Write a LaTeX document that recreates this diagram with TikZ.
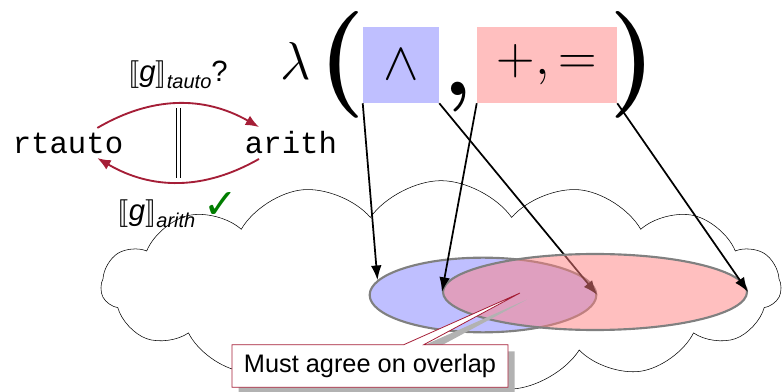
\RequirePackage{fix-cm}
\documentclass[tikz,border=0pt]{standalone}
\usepackage{amsmath,amssymb,stmaryrd}
\usepackage[no-math]{fontspec}
\setmainfont{Liberation Sans}
\newfontfamily\codefont{Liberation Mono}
\newfontfamily\symfont{DejaVu Sans}
\usepackage{tikz}
\usetikzlibrary{arrows.meta,shapes.geometric,shapes.symbols,shapes.callouts,shadows}

\definecolor{tacred}{RGB}{165,30,55}
\definecolor{okgreen}{RGB}{0,125,0}

\tikzset{
  proofarc/.style={tacred, line width=1.4pt, -{Latex[length=10pt,width=8pt]}},
  maparrow/.style={black, line width=1.3pt, -{Latex[length=11pt,width=8pt]}},
  setshape/.style={ellipse, draw=black!50, line width=1.6pt, inner sep=0pt},
  symbox/.style={minimum height=57pt, inner sep=0pt, font=\fontsize{40}{48}\selectfont}
}

\begin{document}
\begin{tikzpicture}[x=0.75pt,y=-0.75pt]

\useasboundingbox (0,0) rectangle (783,392);

% Cloud of models
\node[cloud, draw, thin, cloud puffs=15, cloud puff arc=110, aspect=3.3,
  minimum width=510pt, minimum height=158pt] (domain) at (441,286) {};

% Tactics
\node (rtauto) at (68,143) {\codefont\fontsize{23}{28}\selectfont rtauto};
\node (arith) at (291,143) {\codefont\fontsize{23}{28}\selectfont arith};

\draw[proofarc] ([xshift=22pt]rtauto.north) to[bend left=30] ([xshift=-24pt]arith.north);
\draw[proofarc] ([xshift=-24pt]arith.south) to[bend left=30] ([xshift=22pt]rtauto.south);

\draw[line width=1.1pt, double distance=2pt] (178.5,108) -- (178.5,178);

\node (qtauto) at (178,75) {\fontsize{22}{26}\selectfont$\llbracket$\textit{g}$\rrbracket$%
  \raisebox{-5pt}{\fontsize{15}{18}\selectfont\textit{tauto}}?};
\node (qarith) at (178,210) {\fontsize{22}{26}\selectfont$\llbracket$\textit{g}$\rrbracket$%
  \raisebox{-5pt}{\fontsize{15}{18}\selectfont\textit{arith}}
  \raisebox{2pt}{\symfont\color{okgreen}\fontsize{31}{34}\selectfont ✓}};

% Signature
\node[anchor=base] (lam) at (296,80) {\fontsize{40}{48}\selectfont$\lambda$};
\node[anchor=base] (lpar) at (342,92) {\fontsize{80}{96}\selectfont$\boldsymbol{(}$};
\node[symbox, fill=blue!25, minimum width=57pt] (andbox) at (401,65) {$\wedge$};
\node[anchor=base] (comma) at (458,96) {\fontsize{64}{76}\selectfont$\boldsymbol{,}$};
\node[symbox, fill=red!25, minimum width=105pt] (plusbox) at (547,65) {$+,=$};
\node[anchor=base] (rpar) at (633,92) {\fontsize{80}{96}\selectfont$\boldsymbol{)}$};

% Sets of models
\node[setshape, fill=blue!50, fill opacity=0.5, minimum width=170pt, minimum height=56pt] (blueset) at (483,295) {};
\draw[maparrow] (andbox.south east) -- (blueset.east);
\node[setshape, fill=red!50, fill opacity=0.5, minimum width=228pt, minimum height=57pt] (redset) at (595,292) {};

\draw[maparrow] (andbox.south west) -- (blueset.172);
\draw[maparrow] (plusbox.south west) -- (redset.west);
\draw[maparrow] (plusbox.south east) -- (redset.east);

% Note
\node[rectangle callout, draw=tacred, semithick, fill=white, minimum width=207pt, minimum height=32pt,
  callout absolute pointer={(520,293)}, callout pointer width=15pt,
  drop shadow={shadow xshift=5pt, shadow yshift=-5pt, fill=black!30, opacity=1},
  font=\fontsize{19}{23}\selectfont] (note) at (370,366) {Must agree on overlap};

\end{tikzpicture}
\end{document}
